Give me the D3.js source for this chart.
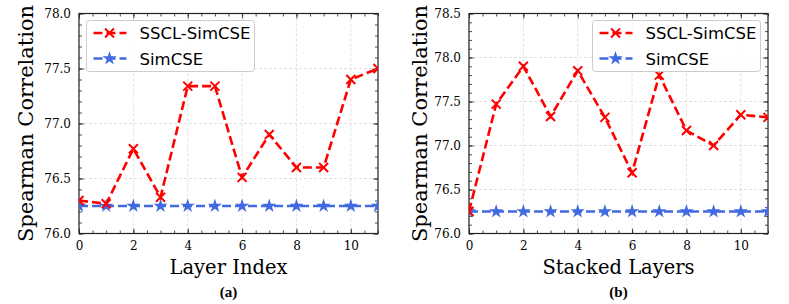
<!DOCTYPE html>
<html>
<head>
<meta charset="utf-8">
<script src="https://cdn.jsdelivr.net/npm/d3@7"></script>
<style>
  body { margin: 0; background: #fff; }
  svg { display: block; }
</style>
</head>
<body>
<div id="chart"></div>
<script>
// x positions shared by both panels
var xValues = [0, 1, 2, 3, 4, 5, 6, 7, 8, 9, 10, 11];

// panel (a): layer index
var ssclLayer = [76.30, 76.27, 76.77, 76.33, 77.34, 77.34, 76.51, 76.90, 76.60, 76.60, 77.40, 77.50];
var simcseLayer = [76.25, 76.25, 76.25, 76.25, 76.25, 76.25, 76.25, 76.25, 76.25, 76.25, 76.25, 76.25];

// panel (b): stacked layers
var ssclStacked = [76.25, 77.47, 77.90, 77.33, 77.85, 77.32, 76.69, 77.80, 77.17, 77.00, 77.35, 77.32];
var simcseStacked = [76.25, 76.25, 76.25, 76.25, 76.25, 76.25, 76.25, 76.25, 76.25, 76.25, 76.25, 76.25];

var xTicks = [0, 2, 4, 6, 8, 10];
var yTicksA = [76.0, 76.5, 77.0, 77.5, 78.0];
var yTicksB = [76.0, 76.5, 77.0, 77.5, 78.0, 78.5];

var seriesNames = ["SSCL-SimCSE", "SimCSE"];

var red = "#ff0000", blue = "#4169e1";

var svg = d3.select("#chart").append("svg")
    .attr("width", 789)
    .attr("height", 304);

var crossPath = "M-4.5,-4.5L4.5,4.5M-4.5,4.5L4.5,-4.5";
var star = d3.symbol().type(d3.symbolStar).size(62);

function drawPanel(opt) {
  var x = d3.scaleLinear().domain([0, 11]).range([opt.left, opt.right]);
  var y = d3.scaleLinear().domain(opt.yDomain).range([233.5, 13.5]);

  var g = svg.append("g");
  var clipId = "clip-" + opt.id;
  g.append("clipPath").attr("id", clipId)
    .append("rect")
      .attr("x", opt.left).attr("y", 13.5)
      .attr("width", opt.right - opt.left).attr("height", 220);

  // grid
  g.append("g").selectAll("line").data(opt.yTicks).enter().append("line")
      .attr("x1", opt.left).attr("x2", opt.right)
      .attr("y1", function(d) { return y(d); }).attr("y2", function(d) { return y(d); })
      .attr("stroke", "#d9d9d9").attr("stroke-width", 0.8).attr("stroke-dasharray", "3,2");
  g.append("g").selectAll("line").data(xTicks).enter().append("line")
      .attr("x1", function(d) { return x(d); }).attr("x2", function(d) { return x(d); })
      .attr("y1", 13.5).attr("y2", 233.5)
      .attr("stroke", "#d9d9d9").attr("stroke-width", 0.8).attr("stroke-dasharray", "3,2");

  // axes with inward ticks on all sides
  var xMinor = d3.range(0, 11.01, 0.5);
  var yMinor = d3.range(opt.yDomain[0], opt.yDomain[1] + 0.001, 0.1);

  function addX(pos, orient) {
    var ax = g.append("g").attr("transform", "translate(0," + pos + ")");
    ax.call(orient(x).tickValues(xMinor).tickSize(-3).tickFormat(""));
    ax.select(".domain").remove();
    var ax2 = g.append("g").attr("transform", "translate(0," + pos + ")");
    ax2.call(orient(x).tickValues(xTicks).tickSize(-5).tickPadding(8).tickFormat(d3.format("d")));
    ax2.select(".domain").remove();
    return ax2;
  }
  var bottom = addX(233.5, d3.axisBottom);
  bottom.selectAll("text").attr("font-family", "DejaVu Serif").attr("font-size", 12).attr("fill", "#000");
  var top = addX(13.5, d3.axisTop);
  top.selectAll("text").remove();

  function addY(pos, orient, labels) {
    var ay = g.append("g").attr("transform", "translate(" + pos + ",0)");
    ay.call(orient(y).tickValues(yMinor).tickSize(-3).tickFormat(""));
    ay.select(".domain").remove();
    var ay2 = g.append("g").attr("transform", "translate(" + pos + ",0)");
    ay2.call(orient(y).tickValues(opt.yTicks).tickSize(-5).tickPadding(8).tickFormat(d3.format(".1f")));
    ay2.select(".domain").remove();
    if (labels) {
      ay2.selectAll("text").attr("font-family", "DejaVu Serif").attr("font-size", 12).attr("fill", "#000");
    } else {
      ay2.selectAll("text").remove();
    }
  }
  addY(opt.left, d3.axisLeft, true);
  addY(opt.right, d3.axisRight, false);
  g.selectAll(".tick line").attr("stroke", "#222").attr("stroke-width", 0.8);

  // frame
  g.append("rect")
      .attr("x", opt.left).attr("y", 13.5)
      .attr("width", opt.right - opt.left).attr("height", 220)
      .attr("fill", "none").attr("stroke", "#222").attr("stroke-width", 1.2);

  // series
  var line = d3.line()
      .x(function(d, i) { return x(xValues[i]); })
      .y(function(d) { return y(d); });

  var plot = g.append("g").attr("clip-path", "url(#" + clipId + ")");

  plot.append("path").datum(opt.simcse)
      .attr("d", line).attr("fill", "none")
      .attr("stroke", blue).attr("stroke-width", 2.6).attr("stroke-dasharray", "9,4");
  plot.selectAll(".star").data(opt.simcse).enter().append("path")
      .attr("class", "star")
      .attr("transform", function(d, i) { return "translate(" + x(xValues[i]) + "," + y(d) + ")"; })
      .attr("d", star).attr("fill", blue);

  plot.append("path").datum(opt.sscl)
      .attr("d", line).attr("fill", "none")
      .attr("stroke", red).attr("stroke-width", 2.6).attr("stroke-dasharray", "9,4");
  plot.selectAll(".cross").data(opt.sscl).enter().append("path")
      .attr("class", "cross")
      .attr("transform", function(d, i) { return "translate(" + x(xValues[i]) + "," + y(d) + ")"; })
      .attr("d", crossPath).attr("fill", "none").attr("stroke", red).attr("stroke-width", 2);

  // legend
  var lg = g.append("g").attr("transform", "translate(" + opt.legendX + ",20.5)");
  lg.append("rect")
      .attr("width", 168).attr("height", 51).attr("rx", 3)
      .attr("fill", "#fff").attr("fill-opacity", 0.85)
      .attr("stroke", "#cccccc").attr("stroke-width", 1);
  seriesNames.forEach(function(name, i) {
    var row = lg.append("g").attr("transform", "translate(0," + (12.5 + i * 25.5) + ")");
    var col = i === 0 ? red : blue;
    row.append("line").attr("x1", 7).attr("x2", 40).attr("y1", 0).attr("y2", 0)
        .attr("stroke", col).attr("stroke-width", 2.6).attr("stroke-dasharray", "9,4");
    if (i === 0) {
      row.append("path").attr("transform", "translate(23,0)").attr("d", crossPath)
          .attr("fill", "none").attr("stroke", col).attr("stroke-width", 2);
    } else {
      row.append("path").attr("transform", "translate(23,0)").attr("d", star).attr("fill", col);
    }
    row.append("text").attr("x", 53).attr("y", 6)
        .attr("font-family", "DejaVu Sans").attr("font-size", 16.5).attr("fill", "#000")
        .text(name);
  });

  // axis titles
  var cx = (opt.left + opt.right) / 2;
  g.append("text").attr("x", cx).attr("y", 274)
      .attr("text-anchor", "middle").attr("font-family", "DejaVu Serif").attr("font-size", 19.5)
      .text(opt.xLabel);
  g.append("text")
      .attr("transform", "translate(" + (opt.left - opt.yLabelOffset) + ",123.5) rotate(-90)")
      .attr("text-anchor", "middle").attr("font-family", "DejaVu Serif").attr("font-size", 21)
      .text("Spearman Correlation");
  g.append("text").attr("x", cx).attr("y", 297)
      .attr("text-anchor", "middle").attr("font-family", "Liberation Serif").attr("font-weight", "bold")
      .attr("font-size", 15)
      .text(opt.caption);
}

drawPanel({ id: "a", left: 79, right: 378, yDomain: [76.0, 78.0], yTicks: yTicksA,
  sscl: ssclLayer, simcse: simcseLayer, legendX: 86.5, yLabelOffset: 46,
  xLabel: "Layer Index", caption: "(a)" });
drawPanel({ id: "b", left: 469, right: 768, yDomain: [76.0, 78.5], yTicks: yTicksB,
  sscl: ssclStacked, simcse: simcseStacked, legendX: 592.5, yLabelOffset: 42,
  xLabel: "Stacked Layers", caption: "(b)" });
</script>
</body>
</html>
